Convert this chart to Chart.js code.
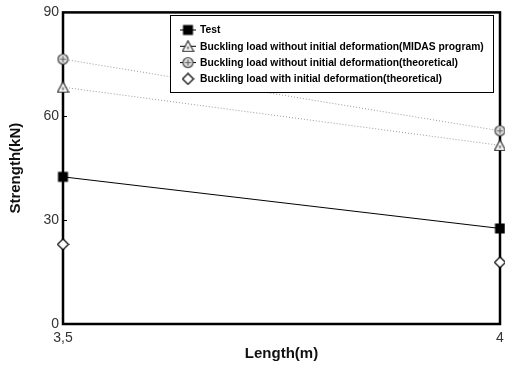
<!DOCTYPE html>
<html><head><meta charset="utf-8">
<script src="https://cdn.jsdelivr.net/npm/chart.js@4"></script>
<style>html,body{margin:0;padding:0;background:#fff}#wrap{width:505px;height:365px}</style>
</head><body><div id="wrap"><canvas id="c" width="505" height="365"></canvas></div>
<script>
const lengths = [3.5, 4];
const xTickLabels = {"3.5": "3,5", "4": "4"};
const yTicks = [0, 30, 60, 90];
const testValues = [42.5, 27.6];
const midasValues = [68.4, 51.6];
const theoryValues = [76.5, 55.8];
const initDefValues = [23.0, 17.8];
const seriesNames = [
  "Test",
  "Buckling load without initial deformation(MIDAS program)",
  "Buckling load without initial deformation(theoretical)",
  "Buckling load with initial deformation(theoretical)"
];

function mk(draw){const c=document.createElement('canvas');c.width=13;c.height=13;const g=c.getContext('2d');draw(g);return c;}
const sqImg = mk(g=>{g.fillStyle='#000';g.fillRect(1.5,1.5,10,10);});
const triImg = mk(g=>{g.strokeStyle='#333';g.fillStyle='#fff';g.lineWidth=1.2;g.beginPath();g.moveTo(6.5,1);g.lineTo(12,11.5);g.lineTo(1,11.5);g.closePath();g.fill();g.stroke();g.fillStyle='#777';g.fillRect(5.5,6.5,2,3);});
const cirImg = mk(g=>{g.strokeStyle='#444';g.fillStyle='#ddd';g.lineWidth=1.2;g.beginPath();g.arc(6.5,6.5,5,0,Math.PI*2);g.fill();g.stroke();g.strokeStyle='#666';g.beginPath();g.moveTo(3.5,6.5);g.lineTo(9.5,6.5);g.moveTo(6.5,3.5);g.lineTo(6.5,9.5);g.stroke();});
const diaImg = mk(g=>{g.strokeStyle='#000';g.fillStyle='#fff';g.lineWidth=1.2;g.beginPath();g.moveTo(6.5,1);g.lineTo(12,6.5);g.lineTo(6.5,12);g.lineTo(1,6.5);g.closePath();g.fill();g.stroke();});

function pts(vals){return lengths.map((x,i)=>({x:x,y:vals[i]}));}

const frame = {
  id:'frame',
  beforeDatasetsDraw(chart){
    const {ctx, chartArea:a, scales} = chart;
    ctx.save();
    ctx.strokeStyle='#000';ctx.lineWidth=2.5;
    ctx.strokeRect(a.left,a.top,a.right-a.left,a.bottom-a.top);
    ctx.lineWidth=1;
    yTicks.forEach(v=>{const y=Math.round(scales.y.getPixelForValue(v))+0.5;ctx.beginPath();ctx.moveTo(a.left,y);ctx.lineTo(a.left+4,y);ctx.stroke();});
    ctx.restore();
  },
  afterDraw(chart){
    const ctx=chart.ctx;
    const bx=170,by=15,bw=323,bh=77;
    ctx.save();
    ctx.fillStyle='#fff';ctx.fillRect(bx,by,bw,bh);
    ctx.strokeStyle='#000';ctx.lineWidth=1;ctx.strokeRect(bx+0.5,by+0.5,bw,bh);
    ctx.font='bold 10.3px "Liberation Sans", Arial, sans-serif';
    ctx.fillStyle='#000';ctx.textBaseline='middle';
    chart.data.datasets.forEach((ds,i)=>{
      const y=30+i*16.3;
      if(ds.showLine!==false){ctx.strokeStyle='#000';ctx.lineWidth=1;ctx.beginPath();ctx.moveTo(180,y);ctx.lineTo(196,y);ctx.stroke();}
      ctx.drawImage(ds.pointStyle,188-6.5,y-6.5);
      ctx.fillText(ds.label,200,y+0.5);
    });
    ctx.restore();
  }
};

new Chart(document.getElementById('c'),{
  type:'scatter',
  data:{datasets:[
    {label:seriesNames[0],data:pts(testValues),showLine:true,borderColor:'#000',borderWidth:1,pointStyle:sqImg,clip:false,order:1},
    {label:seriesNames[1],data:pts(midasValues),showLine:true,borderColor:'#999',borderWidth:1,borderDash:[1,2],pointStyle:triImg,clip:false,order:2},
    {label:seriesNames[2],data:pts(theoryValues),showLine:true,borderColor:'#999',borderWidth:1,borderDash:[1,2],pointStyle:cirImg,clip:false,order:3},
    {label:seriesNames[3],data:pts(initDefValues),showLine:false,pointStyle:diaImg,clip:false,order:4}
  ]},
  options:{
    responsive:false,animation:false,devicePixelRatio:1,
    layout:{padding:{top:11,right:1,left:0,bottom:0}},
    plugins:{legend:{display:false},tooltip:{enabled:false}},
    scales:{
      x:{type:'linear',min:3.5,max:4,
        afterBuildTicks(s){s.ticks=lengths.map(v=>({value:v}));},
        afterFit(s){s.height=41;s.paddingRight=5;s.paddingLeft=0;},
        grid:{display:false,drawTicks:false},border:{display:false},
        ticks:{padding:6,maxRotation:0,autoSkip:false,color:'#333',font:{family:'"Liberation Sans", Arial, sans-serif',size:14},callback:v=>xTickLabels[String(v)]},
        title:{display:true,text:'Length(m)',color:'#111',font:{family:'"Liberation Sans", Arial, sans-serif',size:15,weight:'bold'},padding:{top:0,bottom:2}}
      },
      y:{min:0,max:90,
        afterBuildTicks(s){s.ticks=yTicks.map(v=>({value:v}));},
        afterFit(s){s.width=63;},
        grid:{display:false,drawTicks:false},border:{display:false},
        ticks:{padding:4,color:'#333',font:{family:'"Liberation Sans", Arial, sans-serif',size:14}},
        title:{display:true,text:'Strength(kN)',color:'#111',font:{family:'"Liberation Sans", Arial, sans-serif',size:15,weight:'bold'},padding:{top:7,bottom:0}}
      }
    }
  },
  plugins:[frame]
});
</script></body></html>
